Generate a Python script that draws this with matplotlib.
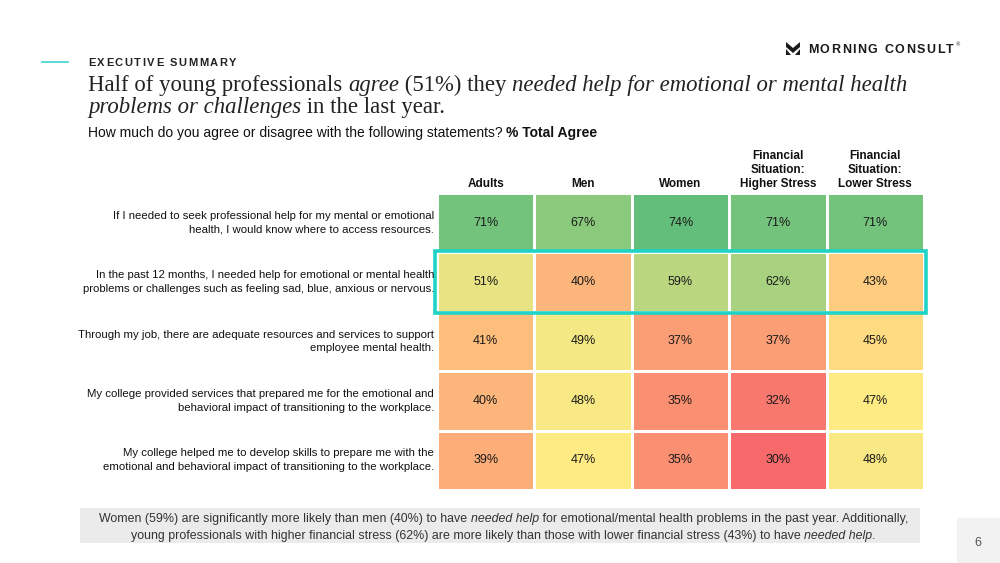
import matplotlib
matplotlib.use('Agg')
import matplotlib.pyplot as plt
import numpy as np
from matplotlib.colors import LinearSegmentedColormap, TwoSlopeNorm
from matplotlib.patches import Rectangle, Polygon

# data
columns = ['Adults', 'Men', 'Women',
           'Financial\nSituation:\nHigher Stress',
           'Financial\nSituation:\nLower Stress']
statements = [
    'If I needed to seek professional help for my mental or emotional\nhealth, I would know where to access resources.',
    'In the past 12 months, I needed help for emotional or mental health\nproblems or challenges such as feeling sad, blue, anxious or nervous.',
    'Through my job, there are adequate resources and services to support\nemployee mental health.',
    'My college provided services that prepared me for the emotional and\nbehavioral impact of transitioning to the workplace.',
    'My college helped me to develop skills to prepare me with the\nemotional and behavioral impact of transitioning to the workplace.',
]
adults = [71, 51, 41, 40, 39]
men = [67, 40, 49, 48, 47]
women = [74, 59, 37, 35, 35]
higher_stress = [71, 62, 37, 32, 30]
lower_stress = [71, 43, 45, 47, 48]
highlight_row = 1

values = np.array([adults, men, women, higher_stress, lower_stress]).T

W, H = 1000, 563
fig = plt.figure(figsize=(10, 5.63), dpi=100)
r = fig.canvas.get_renderer()


def fx(px):
    return px / W


def fy(py):
    return 1 - py / H


def rich_line(x, y, parts, align='left', **kw):
    # place text pieces one after another on the same baseline
    ts = []
    for s, st in parts:
        d = dict(kw)
        d.update(st)
        ts.append(fig.text(0, fy(y), s, va='baseline', ha='left', **d))
    widths = [t.get_window_extent(renderer=r).width for t in ts]
    cur = x - sum(widths) / 2 if align == 'center' else x
    for t, w in zip(ts, widths):
        t.set_x(fx(cur))
        cur += w
    return ts


def spaced(x, y, s, track, **kw):
    cur = x
    for ch in s:
        t = fig.text(fx(cur), fy(y), ch, va='baseline', ha='left', **kw)
        cur += t.get_window_extent(renderer=r).width + track
    return cur


# header
fig.add_artist(plt.Line2D([fx(42), fx(68)], [fy(62), fy(62)], color='#3fd6d0', lw=1.2))
spaced(88, 66, 'EXECUTIVE SUMMARY', 1.6, fontsize=8, fontweight='bold',
       color='#222222', family='Liberation Sans')

# logo
logo = [(786, 42), (793, 48), (800, 42), (800, 47), (793, 53), (786, 47)]
fig.add_artist(Polygon([(fx(a), fy(b)) for a, b in logo], closed=True,
                       facecolor='#1a1a1a', transform=fig.transFigure))
for tri in ([(786, 49), (786, 55), (791, 55)], [(800, 49), (800, 55), (795, 55)]):
    fig.add_artist(Polygon([(fx(a), fy(b)) for a, b in tri], closed=True,
                           facecolor='#1a1a1a', transform=fig.transFigure))
end = spaced(808, 53, 'MORNING CONSULT', 1.5, fontsize=9, fontweight='bold',
             color='#1a1a1a', family='Liberation Sans')
fig.text(fx(end), fy(46), '®', fontsize=3.5, color='#1a1a1a', va='baseline')

# title
serif = dict(family='Liberation Serif', fontsize=16.4, color='#222222')
rich_line(88, 91, [('Half of young professionals ', {}), ('agree', {'style': 'italic'}),
                   (' (51%) they ', {}),
                   ('needed help for emotional or mental health', {'style': 'italic'})], **serif)
rich_line(88, 113, [('problems or challenges', {'style': 'italic'}),
                    (' in the last year.', {})], **serif)
rich_line(88, 137, [('How much do you agree or disagree with the following statements? ', {}),
                    ('% Total Agree', {'fontweight': 'bold'})],
          family='Liberation Sans', fontsize=10, color='#111111')

# heatmap
cmap = LinearSegmentedColormap.from_list('rg', ['#F8696B', '#FFEB84', '#63BE7B'])
norm = TwoSlopeNorm(vmin=values.min(), vcenter=np.median(values), vmax=values.max())

ax = fig.add_axes([fx(437), fy(490), fx(924 - 437), (490 - 193) / H])
ax.pcolormesh(values, cmap=cmap, norm=norm, edgecolors='white', linewidth=0.9)
ax.set_xlim(0, 5)
ax.set_ylim(5, 0)
ax.axis('off')

for i in range(values.shape[0]):
    for j in range(values.shape[1]):
        ax.text(j + 0.5, i + 0.5, f'{values[i, j]}%', ha='center', va='center',
                fontsize=9, color='#1a1a1a', family='Liberation Sans')
    ax.text(-0.03, i + 0.5, statements[i], ha='right', va='center', fontsize=8.2,
            color='#111111', family='Liberation Sans', linespacing=1.45)

for j, c in enumerate(columns):
    ax.text(j + 0.5, -0.05, c, ha='center', va='bottom', fontsize=8.5,
            fontweight='bold', color='#111111', family='Liberation Sans',
            linespacing=1.2)

ax.add_patch(Rectangle((-0.02, highlight_row - 0.02), 5.04, 1.04, fill=False,
                       edgecolor='#1fd3c6', lw=2.6, clip_on=False))

# footer
fig.add_artist(Rectangle((fx(80), fy(543)), fx(840), (543 - 508) / H,
                         facecolor='#ebebeb', edgecolor='none', transform=fig.transFigure))
foot = dict(family='Liberation Sans', fontsize=8.9, color='#333333')
rich_line(504, 522, [('Women (59%) are significantly more likely than men (40%) to have ', {}),
                     ('needed help', {'style': 'italic'}),
                     (' for emotional/mental health problems in the past year. Additionally,', {})],
          align='center', **foot)
rich_line(503, 539, [('young professionals with higher financial stress (62%) are more likely than those with lower financial stress (43%) to have ', {}),
                     ('needed help', {'style': 'italic'}), ('.', {})],
          align='center', **foot)

fig.add_artist(Rectangle((fx(957), 0), fx(43), (563 - 518) / H,
                         facecolor='#f2f2f2', edgecolor='none', transform=fig.transFigure))
fig.text(fx(978), fy(543), '6', ha='center', va='center', fontsize=9, color='#555555',
         family='Liberation Sans')

fig.savefig('out.png', dpi=100)
